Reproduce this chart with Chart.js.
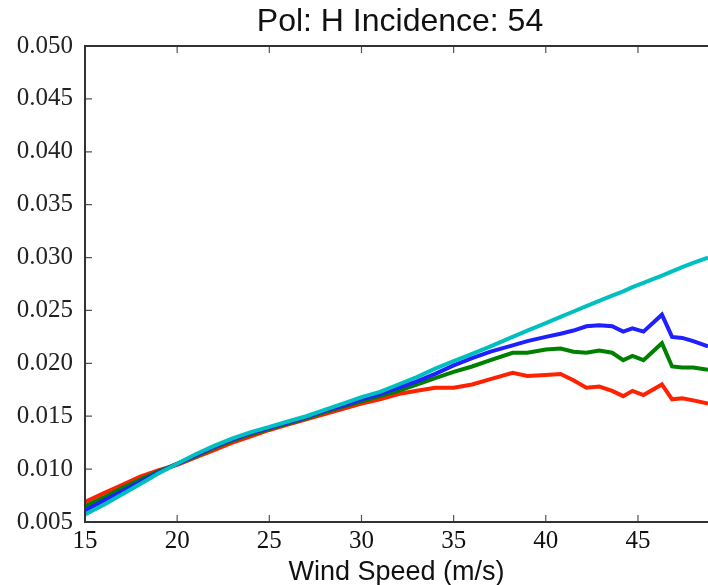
<!DOCTYPE html>
<html>
<head>
<meta charset="utf-8">
<script src="https://cdn.jsdelivr.net/npm/chart.js@4/dist/chart.umd.min.js"></script>
<style>
  html, body { margin: 0; padding: 0; background: #fff; }
  #wrap { width: 708px; height: 585px; }
</style>
</head>
<body>
<div id="wrap"><canvas id="grafico"></canvas></div>
<script>
// wind speed (m/s)
const speeds = [15, 16, 17, 18, 19, 20, 21, 22, 23, 24, 25, 26, 27, 28, 29, 30, 31, 32, 33, 34, 35,
    36, 37, 38.2, 39, 40, 40.8, 41.5, 42.2, 42.9, 43.6, 44.2, 44.7, 45.3, 46.3, 46.85, 47.4, 48, 48.8];

const redVals = [0.0069, 0.0077, 0.0085, 0.0093, 0.0099, 0.0104, 0.0111, 0.0118, 0.0125, 0.0131, 0.0137,
    0.0142, 0.0147, 0.0152, 0.0157, 0.0162, 0.0166, 0.0171, 0.0174, 0.0177, 0.0177,
    0.0180, 0.0185, 0.0191, 0.0188, 0.0189, 0.0190, 0.0184, 0.0177, 0.0178, 0.0174,
    0.0169, 0.0174, 0.0170, 0.0180, 0.0166, 0.0167, 0.0165, 0.0162];

const greenVals = [0.0065, 0.0073, 0.0082, 0.0090, 0.0098, 0.0105, 0.0112, 0.0120, 0.0127, 0.0133, 0.0138,
    0.0143, 0.0148, 0.0154, 0.0159, 0.0164, 0.0169, 0.0174, 0.0180, 0.0186, 0.0192,
    0.0197, 0.0203, 0.0210, 0.0210, 0.0213, 0.0214, 0.0211, 0.0210, 0.0212, 0.0210,
    0.0203, 0.0207, 0.0203, 0.0219, 0.0197, 0.0196, 0.0196, 0.0194];

const blueVals = [0.0061, 0.0070, 0.0079, 0.0088, 0.0097, 0.0105, 0.0113, 0.0121, 0.0128, 0.0134, 0.0139,
    0.0144, 0.0149, 0.0155, 0.0160, 0.0166, 0.0171, 0.0177, 0.0183, 0.0190, 0.0198,
    0.0205, 0.0211, 0.0217, 0.0221, 0.0225, 0.0228, 0.0231, 0.0235, 0.0236, 0.0235,
    0.0230, 0.0233, 0.0230, 0.0246, 0.0225, 0.0224, 0.0221, 0.0216];

const cyanVals = [0.0057, 0.0066, 0.0076, 0.0086, 0.0096, 0.0105, 0.0114, 0.0122, 0.0129, 0.0135, 0.0140,
    0.0145, 0.0150, 0.0156, 0.0162, 0.0168, 0.0173, 0.0180, 0.0187, 0.0195, 0.0202,
    0.0209, 0.0216, 0.0225, 0.0231, 0.0238, 0.0244, 0.0249, 0.0254, 0.0259, 0.0264,
    0.0268, 0.0272, 0.0276, 0.0283, 0.0287, 0.0291, 0.0295, 0.0300];

const xTicks = [15, 20, 25, 30, 35, 40, 45];
const yTicks = [0.005, 0.010, 0.015, 0.020, 0.025, 0.030, 0.035, 0.040, 0.045, 0.050];

function toPoints(vals) {
    return speeds.map((s, i) => ({ x: s, y: vals[i] }));
}

function serie(label, vals, color) {
    return {
        label: label,
        data: toPoints(vals),
        borderColor: color,
        backgroundColor: color,
        borderWidth: 4,
        pointRadius: 0,
        tension: 0,
        fill: false
    };
}

// marco del grafico con ticks hacia dentro
const marco = {
    id: 'marco',
    afterLayout(chart) {
        // centrar el titulo sobre el area completa del eje (recortada a la derecha)
        if (chart.titleBlock) chart.titleBlock.left += 92;
    },
    afterDatasetsDraw(chart) {
        const { ctx, chartArea: a, scales } = chart;
        ctx.save();
        ctx.strokeStyle = '#555';
        ctx.lineWidth = 1.2;
        ctx.beginPath();
        xTicks.forEach(t => {
            const px = scales.x.getPixelForValue(t);
            if (t === 15) return;
            ctx.moveTo(px, a.bottom); ctx.lineTo(px, a.bottom - 7);
            ctx.moveTo(px, a.top); ctx.lineTo(px, a.top + 7);
        });
        yTicks.forEach(t => {
            const py = scales.y.getPixelForValue(t);
            ctx.moveTo(a.left, py); ctx.lineTo(a.left + 7, py);
        });
        ctx.stroke();

        ctx.strokeStyle = '#333';
        ctx.lineWidth = 2;
        ctx.beginPath();
        ctx.moveTo(a.right + 2, a.top);
        ctx.lineTo(a.left, a.top);
        ctx.lineTo(a.left, a.bottom);
        ctx.lineTo(a.right + 2, a.bottom);
        ctx.stroke();
        ctx.restore();
    }
};

const ctx = document.getElementById('grafico').getContext('2d');
new Chart(ctx, {
    type: 'line',
    data: {
        datasets: [
            serie('cyan', cyanVals, '#00bfbf'),
            serie('blue', blueVals, '#1f1fff'),
            serie('green', greenVals, '#008000'),
            serie('red', redVals, '#ff2200')
        ]
    },
    options: {
        responsive: true,
        maintainAspectRatio: false,
        animation: false,
        layout: { padding: 0 },
        plugins: {
            legend: { display: false },
            tooltip: { enabled: false },
            title: {
                display: true,
                text: 'Pol: H Incidence: 54',
                color: '#111',
                font: { family: 'Liberation Sans', size: 32, weight: 'normal', lineHeight: 1.2 },
                padding: { top: 3, bottom: 4.6 }
            }
        },
        scales: {
            x: {
                type: 'linear',
                min: 15,
                max: 48.8,
                grid: { display: false, drawTicks: false },
                border: { display: false },
                afterBuildTicks: s => { s.ticks = xTicks.map(v => ({ value: v })); },
                afterFit: s => { s.height = 63; },
                ticks: {
                    color: '#111',
                    padding: 4,
                    maxRotation: 0,
                    font: { family: 'Liberation Serif', size: 25 },
                    callback: v => String(v)
                },
                title: {
                    display: true,
                    text: 'Wind Speed (m/s)',
                    color: '#111',
                    padding: { top: 0, bottom: -4 },
                    font: { family: 'Liberation Sans', size: 27 }
                }
            },
            y: {
                type: 'linear',
                min: 0.005,
                max: 0.050,
                grid: { display: false, drawTicks: false },
                border: { display: false },
                afterBuildTicks: s => { s.ticks = yTicks.map(v => ({ value: v })); },
                afterFit: s => { s.width = 85; },
                ticks: {
                    color: '#222',
                    padding: 12,
                    font: { family: 'Liberation Serif', size: 25 },
                    callback: v => v.toFixed(3)
                }
            }
        }
    },
    plugins: [marco]
});
</script>
</body>
</html>
